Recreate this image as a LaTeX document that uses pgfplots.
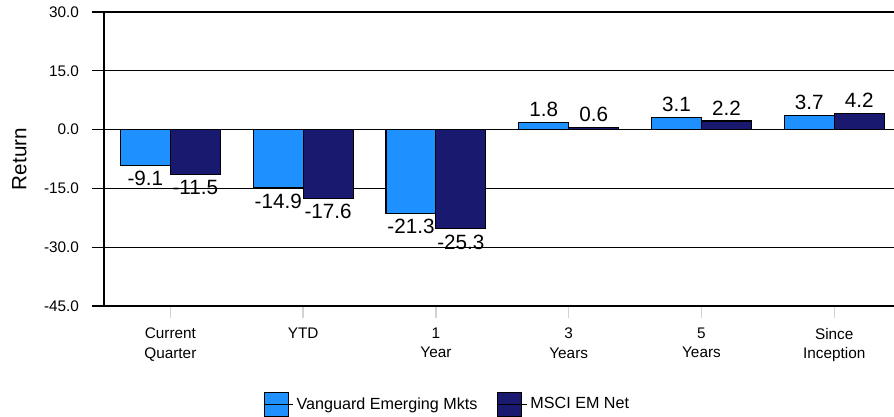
\documentclass[border=0pt]{standalone}
\usepackage{fontspec}
\setmainfont{Liberation Sans}
\usepackage{pgfplots}
\pgfplotsset{compat=1.18}
\definecolor{vang}{HTML}{1E90FF}
\definecolor{msci}{HTML}{191970}
\pgfplotsset{mylegend/.style={legend image code/.code={\draw[##1,line width=0.8pt] (0pt,-9pt) rectangle (18pt,9pt); \path (0pt,0pt) -- (22pt,0pt);}}}
\begin{document}
\begin{tikzpicture}
\begin{axis}[
  scale only axis, width=592.5pt, height=220.5pt,
  xmin=-0.5, xmax=5.45, ymin=-45, ymax=30,
  ytick={-45,-30,-15,0,15,30},
  xtick={0,1,2,3,4,5},
  xticklabels={{Current\\Quarter},{YTD},{1\\Year},{3\\Years},{5\\Years},{Since\\Inception}},
  axis x line*=bottom, axis y line*=left,
  axis line style={black, line width=1pt},
  ymajorgrids, grid style={black, line width=1pt},
  tick align=outside, major tick length=9pt,
  ytick style={black, line width=0.8pt},
  xtick style={draw=gray!35, line width=1pt},
  ylabel={Return},
  ylabel style={font=\fontsize{15.5}{17}\selectfont, at={(axis description cs:-0.107,0.5)}, anchor=center},
  tick label style={font=\fontsize{11.5}{14.5}\selectfont},
  xticklabel style={align=center, yshift=-4pt},
  yticklabel style={xshift=-6.25pt},
  /pgf/number format/fixed, /pgf/number format/fixed zerofill, /pgf/number format/precision=1,
  /pgf/number format/assume math mode=true,
  ybar,
  bar width=0.376,
  every axis plot post/.append style={mylegend},
  nodes near coords, nodes near coords align={vertical},
  every node near coord/.append style={font=\fontsize{15.5}{17}\selectfont, inner sep=4pt, black},
  legend style={at={(0.435,-0.378)}, anchor=south, draw=none, fill=none, inner sep=0pt,
    legend columns=2, font=\fontsize{12.1}{14}\selectfont,
    /tikz/every even column/.append style={column sep=13pt}},
  legend cell align=left,
]
\addplot[fill=vang, draw=black, line width=0.8pt, bar shift=-0.188] coordinates {(0,-9.1) (1,-14.9) (2,-21.3) (3,1.8) (4,3.1) (5,3.7)};
\addplot[fill=msci, draw=black, line width=0.8pt, bar shift=0.188] coordinates {(0,-11.5) (1,-17.6) (2,-25.3) (3,0.6) (4,2.2) (5,4.2)};
\legend{Vanguard Emerging Mkts, MSCI EM Net}
\end{axis}
\pgfresetboundingbox
\path[use as bounding box] (-78pt,-83.25pt) rectangle (592.5pt,229.5pt);
\end{tikzpicture}
\end{document}
